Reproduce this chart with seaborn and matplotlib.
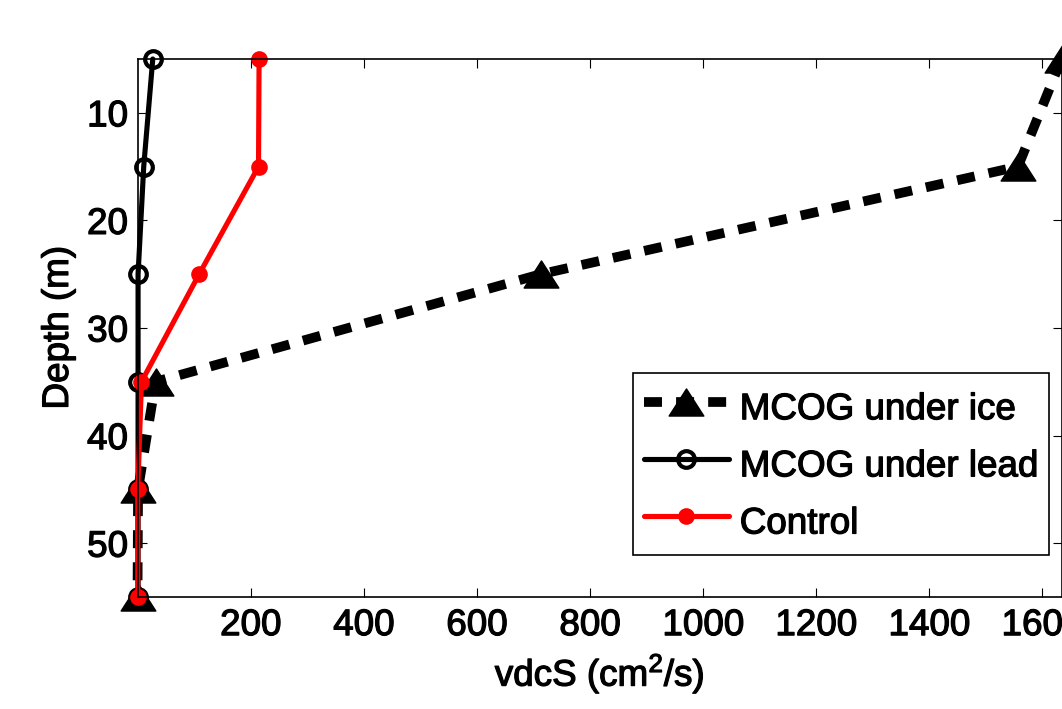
import numpy as np
import pandas as pd
import matplotlib
matplotlib.use("Agg")
import matplotlib.pyplot as plt
import matplotlib.patheffects as pe
from matplotlib.path import Path
import seaborn as sns

# Depth levels (m) and vertical salt diffusivity for each run (cm^2/s)
depth = [5, 15, 25, 35, 45, 55]
mcog_ice = [1634, 1557, 713, 32, 1, 0]
mcog_lead = [27, 11, 1, 1, 1, 1]
control = [215, 214, 109, 7, 0.5, 0.5]

x_ticks = [200, 400, 600, 800, 1000, 1200, 1400, 1600]
y_ticks = [10, 20, 30, 40, 50]

sns.set_theme(style="ticks")
plt.rcParams["font.family"] = ["Liberation Sans", "DejaVu Sans"]
plt.rcParams["mathtext.fontset"] = "custom"
plt.rcParams["mathtext.rm"] = "Liberation Sans"
plt.rcParams["mathtext.default"] = "regular"

fs = 26.5
# slightly heavier glyph strokes
heavy = [pe.withStroke(linewidth=0.9, foreground="black")]

fig = plt.figure(figsize=(10.62, 7.09), dpi=100)
W, H = 1062, 709
ax = fig.add_axes([137.5 / W, 1 - 597 / H, (1061.5 - 137.5) / W, (597 - 59) / H])

# wide flat triangle, like MATLAB's '^'
tri = Path([(-1, -0.78), (1, -0.78), (0, 0.78), (-1, -0.78)],
           [Path.MOVETO, Path.LINETO, Path.LINETO, Path.CLOSEPOLY])

df = pd.DataFrame({"depth": depth, "ice": mcog_ice, "lead": mcog_lead, "control": control})

sns.lineplot(data=df, x="ice", y="depth", orient="y", estimator=None, ax=ax,
             color="black", lw=7, ls=(0, (1.85, 1.45)), marker=tri, ms=25,
             mfc="black", mec="black", mew=1, clip_on=False, label="MCOG under ice")
sns.lineplot(data=df, x="lead", y="depth", orient="y", estimator=None, ax=ax,
             color="black", lw=3.7, marker="o", ms=12, mfc="none", mec="black",
             mew=3, clip_on=False, label="MCOG under lead")
sns.lineplot(data=df, x="control", y="depth", orient="y", estimator=None, ax=ax,
             color="red", lw=3.7, marker="o", ms=12, mfc="red", mec="red",
             mew=0, clip_on=False, label="Control")

all_x = mcog_ice + mcog_lead + control
ax.set_xlim(min(all_x), max(all_x))
ax.set_ylim(max(depth), min(depth))

ax.set_xticks(x_ticks)
ax.set_yticks(y_ticks)
ax.tick_params(direction="in", length=6.7, width=0.8, top=True, right=True,
               labelsize=fs, color="black", labelcolor="black")
ax.tick_params(axis="x", pad=8)
ax.tick_params(axis="y", pad=7)
for s in ax.spines.values():
    s.set_linewidth(1.2)
    s.set_color("black")

ax.set_xlabel("vdcS (cm$^2$/s)", fontsize=fs, labelpad=6, color="black")
ax.set_ylabel("Depth (m)", fontsize=fs, labelpad=8, color="black")

leg = ax.legend(loc="upper left", bbox_to_anchor=(633 / W, 1 - 373 / H),
                bbox_transform=fig.transFigure, borderaxespad=0,
                fontsize=fs, frameon=True, fancybox=False, handlelength=2.3,
                handletextpad=0.3, labelspacing=0.3, borderpad=0.3,
                handleheight=1.55)
leg.get_frame().set_edgecolor("black")
leg.get_frame().set_linewidth(1.2)
leg.get_frame().set_alpha(1)

texts = (list(leg.get_texts()) + ax.get_xticklabels() + ax.get_yticklabels()
         + [ax.xaxis.label, ax.yaxis.label])
for t in texts:
    t.set_color("black")
    t.set_path_effects(heavy)

fig.savefig("out.png", dpi=100)
